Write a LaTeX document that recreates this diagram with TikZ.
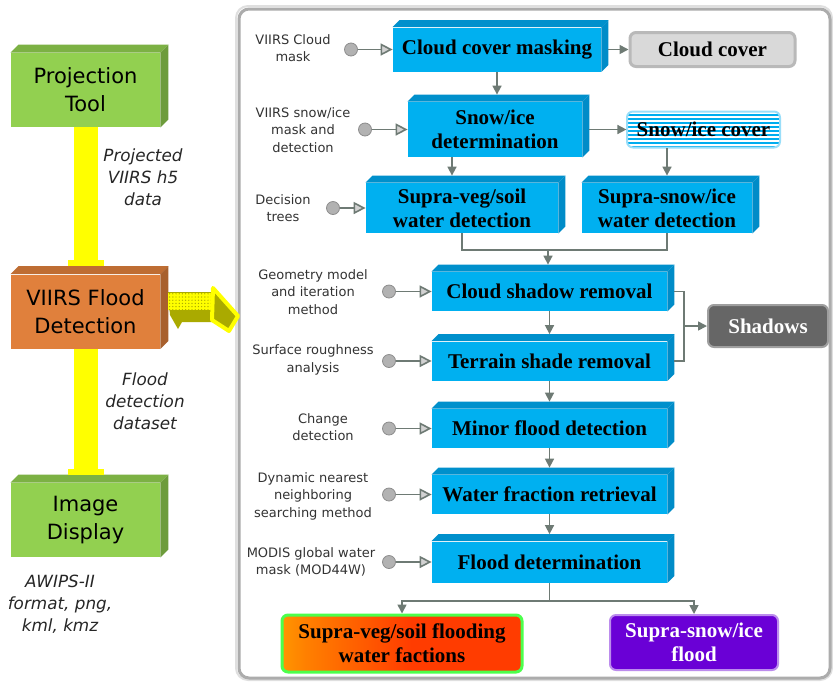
\documentclass[tikz,border=0pt]{standalone}
\usepackage{fontspec}
\setmainfont{Liberation Serif}
\newfontfamily\labelfont{DejaVu Sans}
\usetikzlibrary{arrows.meta,positioning,calc,patterns.meta}
\definecolor{procblue}{RGB}{0,176,240}
\definecolor{procdark}{RGB}{0,140,200}
\definecolor{linegray}{RGB}{110,122,116}
\definecolor{toolgreen}{RGB}{146,208,80}
\definecolor{floodorange}{RGB}{224,128,60}
\definecolor{pipeyellow}{RGB}{255,255,0}
\definecolor{arrowolive}{RGB}{170,170,0}
\definecolor{shadowgray}{RGB}{102,102,102}
\definecolor{snowpurple}{RGB}{106,0,214}
\definecolor{orangered}{RGB}{255,60,0}
\pgfdeclarehorizontalshading{floodshade}{100bp}{color(0bp)=(yellow); color(30bp)=(orange); color(52bp)=(orangered); color(100bp)=(orangered)}

% top and right faces of a box
\newcommand{\extrude}[4]{%
  \fill[#2] (#1.north west) -- ++(#4,#4) -- ([shift={(#4,#4)}]#1.north east) -- (#1.north east) -- cycle;
  \fill[#3] (#1.north east) -- ([shift={(#4,#4)}]#1.north east) -- ([shift={(#4,#4)}]#1.south east) -- (#1.south east) -- cycle;
}

\tikzset{
  procbox/.style={fill=procblue, minimum height=19.5pt, inner sep=1pt, align=center,
    font=\bfseries\fontsize{10.5}{12}\selectfont},
  toolbox/.style={fill=toolgreen, minimum width=74.5pt, minimum height=37pt, align=center,
    font=\labelfont\fontsize{10.5}{14}\selectfont},
  outbox/.style={rounded corners=3pt, line width=1pt, align=center, inner sep=1pt,
    font=\bfseries\fontsize{10.5}{12}\selectfont},
  inlabel/.style={align=center, text=black!80, font=\labelfont\fontsize{6.5}{8.8}\selectfont},
  annot/.style={align=center, text=black!85, font=\labelfont\itshape\fontsize{8.4}{11}\selectfont},
  flow/.style={draw=linegray, line width=0.8pt, -{Triangle[length=4.5pt,width=4.5pt]}},
  feed/.style={draw=linegray, line width=0.8pt, -{Triangle[length=6pt,width=6pt,fill=gray!35]}},
  feeddot/.style={circle, minimum size=6.5pt, inner sep=0pt, fill=gray!60, draw=gray!90},
  pipe/.style={draw=pipeyellow, line width=12pt},
}

\begin{document}
\begin{tikzpicture}[x=0.5pt, y=-0.5pt]
  \useasboundingbox (0,0) rectangle (833,681);
  % --- panel frame ---
  \draw[gray!25, line width=1pt, rounded corners=6pt] (236,6) rectangle (832,680);
  \draw[gray!65, line width=1.5pt, fill=white, rounded corners=5pt] (239,9) rectangle (830,678);

  % --- left column ---
  \node[toolbox] (proj) at (85.5,90) {Projection\\Tool};
  \node[toolbox, fill=floodorange] (viirs) at (85.5,311.5) {VIIRS Flood\\Detection};
  \node[toolbox] (disp) at (85.5,520) {Image\\Display};
  \extrude{proj}{toolgreen!85!black}{toolgreen!75!black}{4pt}
  \extrude{viirs}{floodorange!85!black}{floodorange!75!black}{4pt}
  \extrude{disp}{toolgreen!85!black}{toolgreen!75!black}{4pt}
  \draw[pipe, -{Rectangle[length=3pt,width=18pt]}] (proj.south) -- ([yshift=4pt]viirs.north);
  \draw[pipe, -{Rectangle[length=3pt,width=18pt]}] (viirs.south) -- ([yshift=4pt]disp.north);
  \node[annot] (pdata) at (143,177) {Projected\\VIIRS h5\\data};
  \node[annot] (fdata) at (145,401) {Flood\\detection\\dataset};
  \node[annot] (fmt) at (60,604) {AWIPS-II\\format, png,\\kml, kmz};

  % --- fat arrow into the panel ---
  \fill[arrowolive] (168,292) -- (216,292) -- (216,322) -- (182,322) -- (178,329) -- (170,315) -- cycle;
  \fill[pipeyellow, postaction={pattern={Dots[distance=1.6pt,radius=0.35pt]}, pattern color=arrowolive}]
    (168,293) rectangle (216,310);
  \filldraw[fill=arrowolive, draw=pipeyellow, line width=2pt, line join=round]
    (213,288) -- (238,316) -- (229,331) -- (212,320) -- cycle;

  % --- processing chain ---
  \node[procbox, minimum width=104pt, minimum height=22pt] (mask) at (497,49.5) {Cloud cover masking};
  \node[procbox, minimum width=87pt, minimum height=27.5pt] (snow) at (495,129.5) {Snow/ice\\determination};
  \node[procbox, minimum width=96pt, minimum height=25pt] (vegw) at (462,208) {Supra-veg/soil\\water detection};
  \node[procbox, minimum width=85pt, minimum height=25pt] (snoww) at (667,208) {Supra-snow/ice\\water detection};
  \node[procbox, minimum width=117.5pt] (cshad) at (549.5,291.5) {Cloud shadow removal};
  \node[procbox, minimum width=117.5pt] (tshade) at (549.5,361) {Terrain shade removal};
  \node[procbox, minimum width=117.5pt] (minor) at (549.5,428.5) {Minor flood detection};
  \node[procbox, minimum width=117.5pt] (wfrac) at (549.5,494.5) {Water fraction retrieval};
  \node[procbox, minimum width=117.5pt, minimum height=20.5pt] (fdet) at (549.5,562) {Flood determination};
  \foreach \n in {mask,snow,vegw,snoww,cshad,tshade,minor,wfrac,fdet}{
    \extrude{\n}{procdark!90!procblue}{procdark}{3.5pt}
  }

  % --- side products ---
  \node[outbox, fill=gray!30, draw=gray!55, line width=1.5pt, minimum width=82.5pt, minimum height=17pt]
    (cloud) at (712.5,49.5) {Cloud cover};
  \node[outbox, preaction={fill=cyan}, pattern={Lines[distance=2pt,line width=0.6pt]}, pattern color=white,
    draw=cyan!40, minimum width=76.5pt, minimum height=18pt] (snowc) at (703.5,129.5) {Snow/ice cover};
  \node[outbox, fill=shadowgray, draw=gray!75, text=white, minimum width=60pt, minimum height=21pt]
    (shad) at (768,326) {Shadows};
  \node[outbox, shading=floodshade, draw=green!70!white, line width=1.5pt, minimum width=120pt, minimum height=28.5pt]
    (out1) at (402,643.5) {Supra-veg/soil flooding\\water factions};
  \node[outbox, fill=snowpurple, draw=snowpurple!45!white, text=white, minimum width=84pt, minimum height=27.5pt]
    (out2) at (694,642.5) {Supra-snow/ice\\flood};

  % --- inputs ---
  \node[inlabel] (lmask) at (293,48) {VIIRS Cloud\\mask};
  \node[inlabel] (lsnow) at (303,130) {VIIRS snow/ice\\mask and\\detection};
  \node[inlabel] (lvegw) at (283,208) {Decision\\trees};
  \node[inlabel] (lcshad) at (313,292) {Geometry model\\and iteration\\method};
  \node[inlabel] (ltshade) at (313,360) {Surface roughness\\analysis};
  \node[inlabel] (lminor) at (323,427) {Change\\detection};
  \node[inlabel] (lwfrac) at (313,496) {Dynamic nearest\\neighboring\\searching method};
  \node[inlabel] (lfdet) at (311,562) {MODIS global water\\mask (MOD44W)};
  \node[feeddot] (imask) at (351,49.5) {};
  \node[feeddot] (isnow) at (365,129.5) {};
  \node[feeddot] (ivegw) at (333,208) {};
  \foreach \n/\y in {cshad/291.5, tshade/361, minor/428.5, wfrac/494.5, fdet/562}{
    \node[feeddot] (i\n) at (389,\y) {};
  }
  \foreach \n in {mask,snow,vegw,cshad,tshade,minor,wfrac,fdet}{
    \draw[feed] (i\n) -- (i\n -| \n.west);
  }

  % --- connectors ---
  \draw[flow] ([xshift=3.5pt]mask.east) -- (cloud.west);
  \draw[flow] (mask.south) -- ([yshift=3.5pt]mask.south |- snow.north);
  \draw[flow] ([xshift=3.5pt]snow.east) -- (snowc.west);
  \draw[flow] ([xshift=-5pt]vegw.north |- snow.south) -- ([shift={(-5pt,3.5pt)}]vegw.north);
  \draw[flow] (snoww.north |- snowc.south) -- ([yshift=3.5pt]snoww.north);
  \coordinate (mj) at (548,250);
  \draw[linegray, line width=0.8pt] (vegw.south) |- (mj) -| (snoww.south);
  \draw[flow] (mj) -- ([yshift=3.5pt]mj |- cshad.north);
  \foreach \a/\b in {cshad/tshade, tshade/minor, minor/wfrac, wfrac/fdet}{
    \draw[flow] (\a.south) -- ([yshift=3.5pt]\b.north);
  }
  \coordinate (sj) at (684,326);
  \draw[linegray, line width=0.8pt] ([xshift=3.5pt]cshad.east) -| (sj) |- ([xshift=3.5pt]tshade.east);
  \draw[flow] (sj) -- (shad.west);
  \coordinate (oj) at (549.5,601);
  \draw[linegray, line width=0.8pt] (fdet.south) -- (oj);
  \draw[flow] (oj) -| (out1.north);
  \draw[flow] (oj) -| (out2.north);
\end{tikzpicture}
\end{document}
